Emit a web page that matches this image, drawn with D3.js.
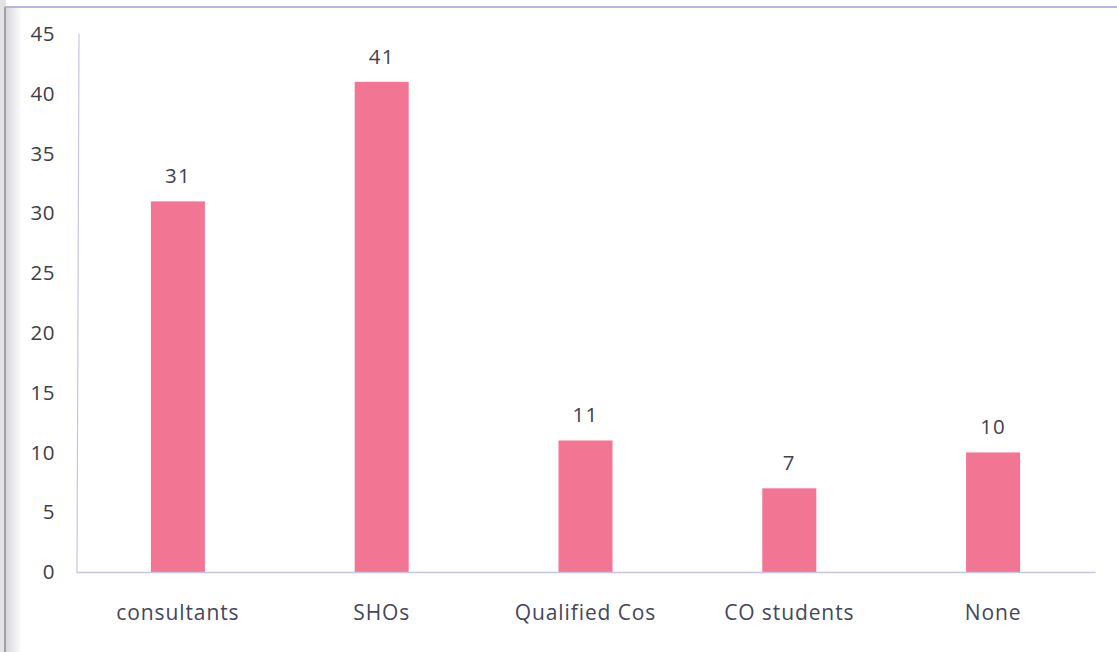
<!DOCTYPE html>
<html>
<head>
<meta charset="utf-8">
<script src="https://cdn.jsdelivr.net/npm/d3@7"></script>
<style>
  html, body { margin: 0; padding: 0; background: #ffffff; }
  svg { display: block; }
  text { font-family: "Open Sans", Lato, sans-serif; }
</style>
</head>
<body>
<svg id="chart" width="1117" height="652"></svg>
<script>
// Respondent groups and counts
const categories = ["consultants", "SHOs", "Qualified Cos", "CO students", "None"];
const counts = [31, 41, 11, 7, 10];
const yTicks = [0, 5, 10, 15, 20, 25, 30, 35, 40, 45];

const svg = d3.select("#chart");
const W = 1117, H = 652;
const plot = { left: 76, right: 1095, top: 34, bottom: 572 };
const FONT = "'Open Sans', Lato, sans-serif";

// Page background with a soft grey left margin and frame
const defs = svg.append("defs");
const grad = defs.append("linearGradient").attr("id", "edge").attr("x1", 0).attr("x2", 1);
grad.append("stop").attr("offset", 0).attr("stop-color", "#d8d8dc");
grad.append("stop").attr("offset", 1).attr("stop-color", "#ffffff");
svg.append("rect").attr("x", 0).attr("y", 0).attr("width", W).attr("height", H).attr("fill", "#ffffff");
svg.append("rect").attr("x", 0).attr("y", 0).attr("width", 6).attr("height", H).attr("fill", "#e4e4e6");
svg.append("rect").attr("x", 6).attr("y", 8).attr("width", 16).attr("height", H - 8).attr("fill", "url(#edge)");
svg.append("line").attr("x1", 5).attr("x2", 5).attr("y1", 7).attr("y2", H)
  .attr("stroke", "#8a8a94").attr("stroke-width", 1.5);
svg.append("line").attr("x1", 5).attr("x2", W).attr("y1", 7).attr("y2", 7)
  .attr("stroke", "#b4b6dc").attr("stroke-width", 2);

const x = d3.scaleBand()
  .domain(categories)
  .range([plot.left, plot.right])
  .paddingInner(0.735)
  .paddingOuter(0.3675);

const y = d3.scaleLinear()
  .domain([0, 45])
  .range([plot.bottom, plot.top]);

// Y axis: labels only, plus a thin vertical axis line
const yAxis = svg.append("g")
  .attr("transform", `translate(${plot.left},0)`)
  .call(d3.axisLeft(y).tickValues(yTicks).tickSize(0).tickPadding(21));
yAxis.select(".domain").remove();
yAxis.selectAll("text")
  .attr("font-size", 20.5)
  .attr("letter-spacing", 0.5)
  .attr("fill", "#3e3e46")
  .style("font-family", FONT);

svg.append("line")
  .attr("x1", plot.left + 3).attr("x2", plot.left + 1)
  .attr("y1", y(45)).attr("y2", plot.bottom)
  .attr("stroke", "#c4c6e4").attr("stroke-width", 1.2);

// Bars
svg.append("g").selectAll("rect")
  .data(categories)
  .join("rect")
  .attr("x", d => x(d))
  .attr("y", (d, i) => y(counts[i]))
  .attr("width", x.bandwidth())
  .attr("height", (d, i) => y(0) - y(counts[i]))
  .attr("fill", "#f27694");

// X axis baseline and category labels
const xAxis = svg.append("g")
  .attr("transform", `translate(0,${plot.bottom})`)
  .call(d3.axisBottom(x).tickSize(0).tickPadding(33));
xAxis.select(".domain").attr("stroke", "#c4c6e4").attr("stroke-width", 1.5);
xAxis.selectAll("text")
  .attr("font-size", 21)
  .attr("fill", "#46465a")
  .attr("letter-spacing", 0.9)
  .style("font-family", FONT);

// Value labels above bars
svg.append("g").selectAll("text")
  .data(categories)
  .join("text")
  .attr("x", d => x(d) + x.bandwidth() / 2)
  .attr("y", (d, i) => y(counts[i]) - 18)
  .attr("text-anchor", "middle")
  .attr("font-size", 20.5)
  .attr("letter-spacing", 1.2)
  .attr("fill", "#42424e")
  .text((d, i) => counts[i]);
</script>
</body>
</html>
